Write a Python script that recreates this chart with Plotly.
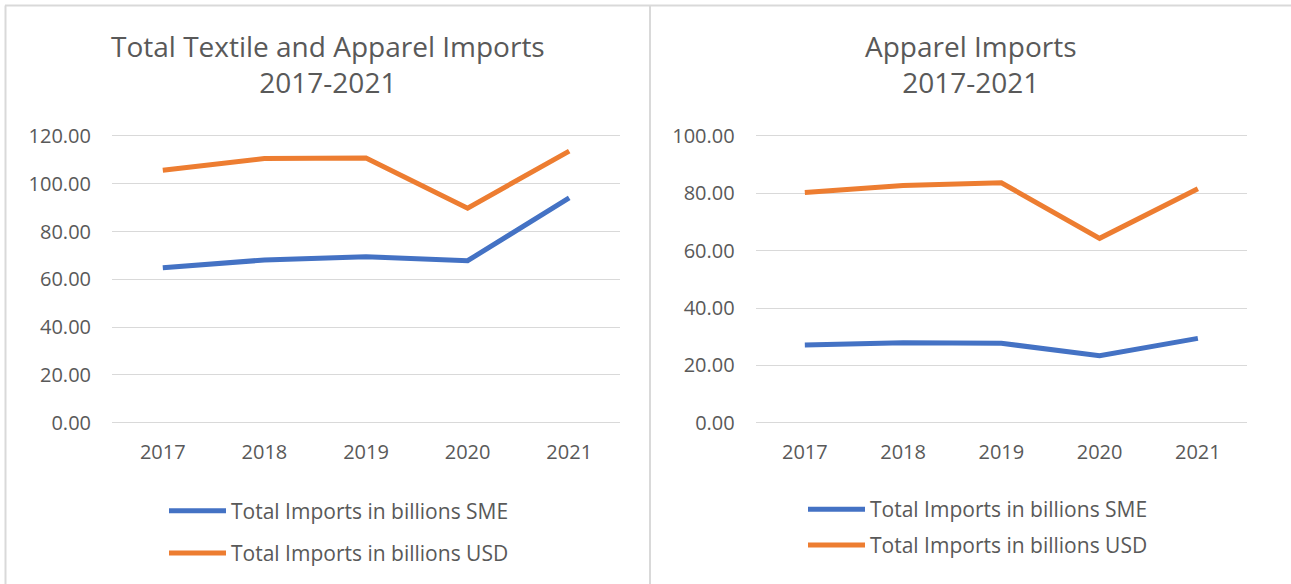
import plotly.graph_objects as go

years = ["2017", "2018", "2019", "2020", "2021"]

total_sme = [64.9, 68.1, 69.5, 67.8, 94.1]
total_usd = [105.7, 110.6, 110.8, 89.8, 113.7]

apparel_sme = [27.1, 27.9, 27.7, 23.4, 29.4]
apparel_usd = [80.3, 82.7, 83.7, 64.3, 81.6]

series_names = ["Total Imports in billions SME", "Total Imports in billions USD"]

W, H = 1291, 584
BLUE = "#4472C4"
ORANGE = "#ED7D31"
TEXT = "#595959"
GRID = "#D9D9D9"
FONT = "Open Sans"
PAD = 0.5  # small range padding so the 0 and max gridlines get drawn


def px_x(x):
    return x / W


def px_y(y):
    return 1 - y / H


fig = go.Figure()

for axis_id, legend_id, sme, usd in (
    ("", "legend", total_sme, total_usd),
    ("2", "legend2", apparel_sme, apparel_usd),
):
    for name, values, color in ((series_names[0], sme, BLUE), (series_names[1], usd, ORANGE)):
        fig.add_scatter(
            x=years,
            y=values,
            mode="lines",
            name=name,
            legend=legend_id,
            legendgroup=f"{legend_id}-{name}",
            line={"color": color, "width": 5},
            xaxis=f"x{axis_id}",
            yaxis=f"y{axis_id}",
            hovertemplate="%{x}: %{y:.2f}<extra></extra>",
        )


def y_domain(top_px, bottom_px, vmax):
    per_unit = (bottom_px - top_px) / vmax
    return [px_y(bottom_px + PAD * per_unit), px_y(top_px - PAD * per_unit)]


common_x = dict(
    type="category",
    range=[-0.5, 4.5],
    showgrid=False,
    showline=False,
    zeroline=False,
    ticks="",
    ticklabelstandoff=14,
    tickfont={"family": FONT, "size": 20, "color": TEXT},
)
common_y = dict(
    showgrid=True,
    gridcolor=GRID,
    gridwidth=1.3,
    zeroline=False,
    showline=False,
    ticks="",
    tickformat=".2f",
    dtick=20,
    ticklabelstandoff=20,
    tickfont={"family": FONT, "size": 20, "color": TEXT},
)

legend_style = dict(
    orientation="v",
    xanchor="left",
    yanchor="top",
    bgcolor="rgba(0,0,0,0)",
    font={"family": FONT, "size": 21, "color": TEXT},
    traceorder="grouped",
    itemwidth=57,
)

fig.update_layout(
    width=W,
    height=H,
    margin={"l": 0, "r": 0, "t": 0, "b": 0, "autoexpand": False},
    paper_bgcolor="white",
    plot_bgcolor="white",
    showlegend=True,
    xaxis={**common_x, "domain": [px_x(112), px_x(620)], "anchor": "y"},
    yaxis={**common_y, "domain": y_domain(136, 422.7, 120), "range": [-PAD, 120 + PAD], "anchor": "x"},
    xaxis2={**common_x, "domain": [px_x(755.7), px_x(1247)], "anchor": "y2"},
    yaxis2={**common_y, "domain": y_domain(136, 422.7, 100), "range": [-PAD, 100 + PAD], "anchor": "x2"},
    legend={**legend_style, "x": px_x(164), "y": px_y(490.5), "tracegroupgap": 12},
    legend2={**legend_style, "x": px_x(803), "y": px_y(489), "tracegroupgap": 5.5},
    annotations=[
        dict(
            text="Total Textile and Apparel Imports<br>2017-2021",
            x=px_x(328), y=px_y(64), xref="paper", yref="paper",
            xanchor="center", yanchor="middle", showarrow=False,
            font={"family": FONT, "size": 28, "color": TEXT},
        ),
        dict(
            text="Apparel Imports<br>2017-2021",
            x=px_x(971), y=px_y(64), xref="paper", yref="paper",
            xanchor="center", yanchor="middle", showarrow=False,
            font={"family": FONT, "size": 28, "color": TEXT},
        ),
    ],
    shapes=[
        dict(type="line", xref="paper", yref="paper", x0=px_x(5), x1=1, y0=px_y(5.5), y1=px_y(5.5),
             line={"color": GRID, "width": 2}),
        dict(type="line", xref="paper", yref="paper", x0=px_x(5.5), x1=px_x(5.5), y0=0, y1=px_y(5.5),
             line={"color": GRID, "width": 2}),
        dict(type="line", xref="paper", yref="paper", x0=px_x(650), x1=px_x(650), y0=0, y1=px_y(5.5),
             line={"color": GRID, "width": 2}),
    ],
)

fig.write_html(
    "out.html",
    config={"displayModeBar": False},
    post_script="document.body.style.margin = '0';",
)
